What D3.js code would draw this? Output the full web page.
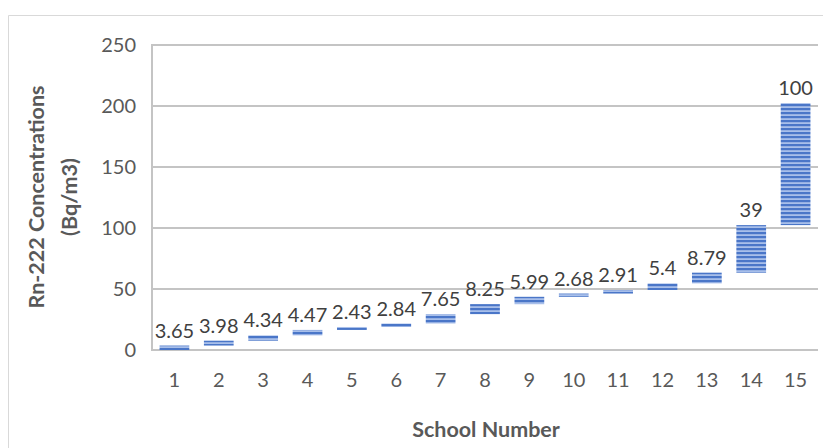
<!DOCTYPE html>
<html>
<head>
<meta charset="utf-8">
<script src="https://cdn.jsdelivr.net/npm/d3@7"></script>
<style>
  html, body { margin: 0; padding: 0; background: #fff; }
  svg { display: block; font-family: Lato, "Open Sans", sans-serif; }
</style>
</head>
<body>
<svg id="chart" width="823" height="448"></svg>
<script>
// Rn-222 concentration per school, shown as floating (cumulative) bars
const schools = ["1","2","3","4","5","6","7","8","9","10","11","12","13","14","15"];
const concentrations = [3.65, 3.98, 4.34, 4.47, 2.43, 2.84, 7.65, 8.25, 5.99, 2.68, 2.91, 5.4, 8.79, 39, 100];
const yTicks = [0, 50, 100, 150, 200, 250];

const svg = d3.select("#chart");
const W = 823, H = 448;
const m = { left: 152, right: 5, top: 45, bottom: 98 };
const FONT = "Lato, 'Open Sans', sans-serif";

// cumulative start/end of each floating bar
let acc = 0;
const bars = schools.map((s, i) => {
  const start = acc;
  acc += concentrations[i];
  return { school: s, value: concentrations[i], start, end: acc };
});

const x = d3.scaleBand().domain(schools).range([m.left, W - m.right]).paddingInner(0.33).paddingOuter(0.17);
const y = d3.scaleLinear().domain([0, 250]).range([H - m.bottom, m.top]);

// chart frame
svg.append("path")
  .attr("d", `M8.5,${H} L8.5,15.5 L${W},15.5`)
  .attr("fill", "none").attr("stroke", "#d9d9d9").attr("stroke-width", 1);

// horizontal stripe fill
const pat = svg.append("defs").append("pattern")
  .attr("id", "stripes").attr("patternUnits", "userSpaceOnUse")
  .attr("width", 8).attr("height", 4);
pat.append("rect").attr("width", 8).attr("height", 4).attr("fill", "#a8bfea");
pat.append("rect").attr("width", 8).attr("height", 2.2).attr("fill", "#4a76c8");

// gridlines
svg.append("g").selectAll("line").data(yTicks).join("line")
  .attr("x1", m.left).attr("x2", W - m.right)
  .attr("y1", d => y(d)).attr("y2", d => y(d))
  .attr("stroke", "#c4c4c4").attr("stroke-width", 2);

// left axis line
svg.append("line")
  .attr("x1", m.left).attr("x2", m.left)
  .attr("y1", y(250) - 1).attr("y2", y(0) + 1)
  .attr("stroke", "#c4c4c4").attr("stroke-width", 2);

// y axis
const yAxis = svg.append("g").attr("transform", `translate(${m.left - 16},0)`)
  .call(d3.axisLeft(y).tickValues(yTicks).tickSize(0).tickPadding(0));
yAxis.select(".domain").remove();
yAxis.selectAll("text").attr("fill", "#595959").style("font-size", "20px")
  .style("font-family", FONT);

// x axis
const xAxis = svg.append("g").attr("transform", `translate(0,${y(0) + 23})`)
  .call(d3.axisBottom(x).tickSize(0).tickPadding(0));
xAxis.select(".domain").remove();
xAxis.selectAll("text").attr("fill", "#595959").style("font-size", "20px")
  .attr("dy", "0.71em")
  .style("font-family", FONT);

// bars
svg.append("g").selectAll("rect").data(bars).join("rect")
  .attr("x", d => x(d.school))
  .attr("width", x.bandwidth())
  .attr("y", d => y(d.end))
  .attr("height", d => Math.max(1, y(d.start) - y(d.end)))
  .attr("fill", "url(#stripes)");

// data labels
svg.append("g").selectAll("text").data(bars).join("text")
  .attr("x", d => x(d.school) + x.bandwidth() / 2)
  .attr("y", d => y(d.end) - 8)
  .attr("text-anchor", "middle")
  .attr("fill", "#404040")
  .style("font-size", "20px")
  .text(d => d.value);

// axis titles
const yt = svg.append("text")
  .attr("transform", `translate(44,197) rotate(-90)`)
  .attr("text-anchor", "middle")
  .attr("fill", "#595959").style("font-size", "21.5px").style("font-weight", "bold");
yt.append("tspan").attr("x", 0).attr("dy", 0).text("Rn-222 Concentrations");
yt.append("tspan").attr("x", 0).attr("dy", 33).text("(Bq/m3)");

svg.append("text")
  .attr("x", 486).attr("y", 437)
  .attr("text-anchor", "middle")
  .attr("fill", "#595959").style("font-size", "21.5px").style("font-weight", "bold")
  .text("School Number");
</script>
</body>
</html>
